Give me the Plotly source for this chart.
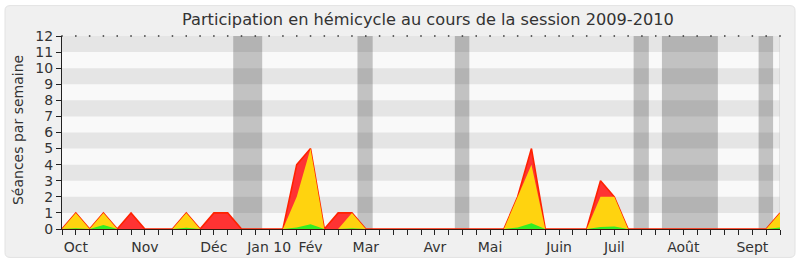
import plotly.graph_objects as go

# ---- data ----
weeks = list(range(53))
presences = [0, 1, 0, 1, 0, 1, 0, 0, 0, 1,
             0, 1, 1, 0, 0, 0, 0, 4, 5, 0,
             1, 1, 0, 0, 0, 0, 0, 0, 0, 0,
             0, 0, 0, 2, 5, 0, 0, 0, 0, 3,
             2, 0, 0, 0, 0, 0, 0, 0, 0, 0,
             0, 0, 1]
interventions = [0, 1, 0, 1, 0, 0, 0, 0, 0, 1,
                 0, 0, 0, 0, 0, 0, 0, 2, 5, 0,
                 0, 1, 0, 0, 0, 0, 0, 0, 0, 0,
                 0, 0, 0, 2, 4, 0, 0, 0, 0, 2,
                 2, 0, 0, 0, 0, 0, 0, 0, 0, 0,
                 0, 0, 1]
questions = [0, 0.05, 0, 0.25, 0, 0, 0, 0, 0, 0.08,
             0, 0, 0, 0, 0, 0, 0, 0.1, 0.3, 0,
             0, 0.05, 0, 0, 0, 0, 0, 0, 0, 0,
             0, 0, 0, 0.1, 0.35, 0, 0, 0, 0, 0.12,
             0.15, 0, 0, 0, 0, 0, 0, 0, 0, 0,
             0, 0, 0.1]
month_labels = ["Oct", "Nov", "Déc", "Jan 10", "Fév", "Mar", "Avr",
                "Mai", "Juin", "Juil", "Août", "Sept"]
month_weeks = [1, 6, 11, 15, 18, 22, 27, 31, 36, 40, 45, 50]
vacances = [(12.4, 14.5), (21.4, 22.5), (28.45, 29.5),
            (41.4, 42.5), (43.45, 47.5), (50.45, 51.5)]
y_ticks = list(range(13))

# ---- layout geometry ----
W, H = 800, 267
L, R, T, B = 62, 20, 36, 34
pw, ph = W - L - R, H - T - B

def px_x(p):
    return (p - L) / pw

def px_y(p):
    return (H - B - p) / ph

FONT = "DejaVu Sans"
TXT = "#333333"

fig = go.Figure()

fig.add_trace(go.Scatter(x=weeks, y=presences, mode="lines", fill="tozeroy",
                         fillcolor="#ff3333", line=dict(color="#ff2200", width=1.6),
                         hoverinfo="skip", showlegend=False))
fig.add_trace(go.Scatter(x=weeks, y=interventions, mode="lines", fill="tozeroy",
                         fillcolor="#ffd30f", line=dict(width=0),
                         hoverinfo="skip", showlegend=False))
fig.add_trace(go.Scatter(x=weeks, y=questions, mode="lines", fill="tozeroy",
                         fillcolor="#33ee22", line=dict(width=0),
                         hoverinfo="skip", showlegend=False))
# dotted top marks at each week
fig.add_trace(go.Scatter(x=weeks, y=[12] * len(weeks), mode="markers",
                         marker=dict(symbol="square", size=1.5, color="#333333",
                                     line=dict(width=0)),
                         cliponaxis=False, hoverinfo="skip", showlegend=False))

shapes = []
# rounded panel
x0, x1 = px_x(5), px_x(795)
y0, y1 = px_y(262), px_y(5)
rx, ry = 5 / pw, 5 / ph
path = (f"M {x0+rx},{y1} L {x1-rx},{y1} Q {x1},{y1} {x1},{y1-ry} "
        f"L {x1},{y0+ry} Q {x1},{y0} {x1-rx},{y0} L {x0+rx},{y0} "
        f"Q {x0},{y0} {x0},{y0+ry} L {x0},{y1-ry} Q {x0},{y1} {x0+rx},{y1} Z")
shapes.append(dict(type="path", xref="paper", yref="paper", path=path,
                   fillcolor="#f0f0f0", line=dict(color="#e2e2e2", width=1),
                   layer="below"))
# plot area background
shapes.append(dict(type="rect", xref="x", yref="y", x0=0, x1=52, y0=0, y1=12,
                   fillcolor="#f9f9f9", line=dict(width=0), layer="below"))
# horizontal stripes
for v in y_ticks[1:12:2]:
    shapes.append(dict(type="rect", xref="x", yref="y", x0=0, x1=52, y0=v, y1=v + 1,
                       fillcolor="#e5e5e5", line=dict(width=0), layer="below"))
# vacation bands
for a, b in vacances:
    shapes.append(dict(type="rect", xref="x", yref="y", x0=a, x1=b, y0=0, y1=12,
                       fillcolor="rgba(40,40,40,0.26)", line=dict(width=0), layer="below"))
# right edge line
shapes.append(dict(type="line", xref="x", yref="y", x0=52, x1=52, y0=0, y1=12,
                   line=dict(color="#cccccc", width=1), layer="below"))

tick_text = [""] * len(weeks)
for w, lab in zip(month_weeks, month_labels):
    tick_text[w] = lab

fig.update_layout(
    width=W, height=H,
    margin=dict(l=L, r=R, t=T, b=B),
    paper_bgcolor="white",
    plot_bgcolor="#f9f9f9",
    shapes=shapes,
    font=dict(family=FONT, color=TXT, size=14),
    xaxis=dict(range=[0, 52], tickmode="array", tickvals=weeks, ticktext=tick_text,
               ticks="outside", ticklen=5, tickcolor="#222222", showline=True,
               linecolor="#3a1a10", linewidth=1.2, showgrid=False, zeroline=False,
               tickfont=dict(family=FONT, size=14, color=TXT), fixedrange=True),
    yaxis=dict(range=[0, 12], tickmode="array", tickvals=y_ticks,
               ticks="outside", ticklen=5, tickcolor="#222222", showline=True,
               linecolor="#222222", linewidth=1, showgrid=False, zeroline=False,
               tickfont=dict(family=FONT, size=14, color=TXT), fixedrange=True),
    annotations=[
        dict(text="Participation en hémicycle au cours de la session 2009-2010",
             xref="paper", yref="paper", x=px_x(428), y=px_y(19),
             xanchor="center", yanchor="middle", showarrow=False,
             font=dict(family=FONT, size=16.2, color=TXT)),
        dict(text="Séances par semaine", xref="paper", yref="paper",
             x=px_x(18), y=px_y(132), xanchor="center", yanchor="middle",
             textangle=-90, showarrow=False,
             font=dict(family=FONT, size=14, color=TXT)),
    ],
)

fig.write_html("out.html")
